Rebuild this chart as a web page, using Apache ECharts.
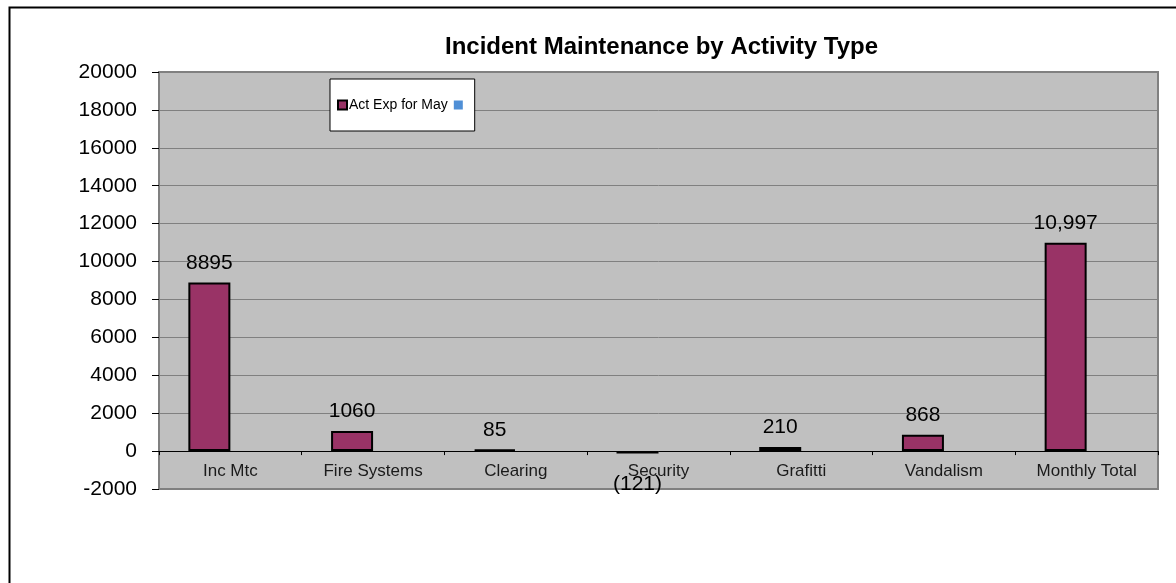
<!DOCTYPE html>
<html>
<head>
<meta charset="utf-8">
<script src="https://cdn.jsdelivr.net/npm/echarts@6/dist/echarts.min.js"></script>
<style>
html,body{margin:0;padding:0;background:#fff;}
#chart{width:1176px;height:583px;}
</style>
</head>
<body>
<div id="chart"></div>
<script>
const categories = ['Inc Mtc', 'Fire Systems', 'Clearing', 'Security', 'Grafitti', 'Vandalism', 'Monthly Total'];
const actExpForMay = [8895, 1060, 85, -121, 210, 868, 10997];
const secondSeries = [];
const yTicks = { min: -2000, max: 20000, interval: 2000 };
const titleText = 'Incident Maintenance by Activity Type';
const seriesNames = ['Act Exp for May', ' '];

function fmt(v) {
  if (v < 0) return '(' + Math.abs(v) + ')';
  if (v >= 10000) return v.toLocaleString('en-US');
  return String(v);
}

const chart = echarts.init(document.getElementById('chart'), null, { renderer: 'canvas' });
const font = 'Liberation Sans, Arial, sans-serif';

chart.setOption({
  animation: false,
  backgroundColor: '#fff',
  textStyle: { fontFamily: font },
  title: {
    text: titleText,
    left: 440,
    top: 30,
    textStyle: { fontFamily: font, fontSize: 24, fontWeight: 'bold', color: '#000' }
  },
  graphic: [{
    type: 'rect',
    left: 7, top: 5,
    shape: { x: 0, y: 0, width: 1200, height: 700 },
    style: { fill: 'none', stroke: '#000', lineWidth: 2 },
    z: -10, silent: true
  }],
  legend: {
    left: 330,
    top: 79,
    orient: 'horizontal',
    data: seriesNames,
    backgroundColor: '#fff',
    borderColor: '#000',
    borderWidth: 1,
    padding: [19, 6, 19, 7],
    itemWidth: 9,
    itemHeight: 9,
    itemGap: 6,
    icon: 'rect',
    textStyle: { fontFamily: font, fontSize: 14, color: '#000', padding: [0, 0, 0, -3] }
  },
  grid: {
    left: 159, right: 18, top: 72, bottom: 94,
    show: true,
    backgroundColor: '#c0c0c0',
    borderColor: '#808080',
    borderWidth: 2
  },
  xAxis: {
    type: 'category',
    data: categories,
    axisLine: { onZero: true, lineStyle: { color: '#000', width: 1 } },
    axisTick: { show: true, length: 4, lineStyle: { color: '#000' } },
    axisLabel: { fontFamily: font, fontSize: 17, color: '#1a1a1a', margin: 12 }
  },
  yAxis: {
    type: 'value',
    min: yTicks.min,
    max: yTicks.max,
    interval: yTicks.interval,
    axisLine: { show: false },
    axisTick: { show: true, length: 7, lineStyle: { color: '#000' } },
    axisLabel: { fontFamily: font, fontSize: 21, color: '#000', margin: 22, formatter: v => String(v) },
    splitLine: { show: true, lineStyle: { color: '#808080', width: 1 } }
  },
  series: [
    {
      name: seriesNames[0],
      type: 'bar',
      barWidth: 42,
      barGap: '0%',
      itemStyle: { color: '#993366', borderColor: '#000', borderWidth: 2 },
      data: actExpForMay.map(v => ({
        value: v,
        label: v < 0 ? { position: 'bottom', distance: 20 } : undefined
      })),
      label: {
        show: true,
        position: 'top',
        distance: 9,
        fontFamily: font,
        fontSize: 21,
        color: '#000',
        formatter: p => fmt(p.value)
      }
    },
    {
      name: seriesNames[1],
      type: 'bar',
      barWidth: 42,
      barGap: '0%',
      itemStyle: { color: '#4f8fd6' },
      data: secondSeries
    }
  ]
});

// place category labels just under the zero line, as in the reference
const zeroY = chart.convertToPixel({ yAxisIndex: 0 }, 0);
const bottomY = chart.convertToPixel({ yAxisIndex: 0 }, yTicks.min);
chart.setOption({ xAxis: { axisLabel: { margin: 12 - (bottomY - zeroY) } } });
</script>
</body>
</html>
